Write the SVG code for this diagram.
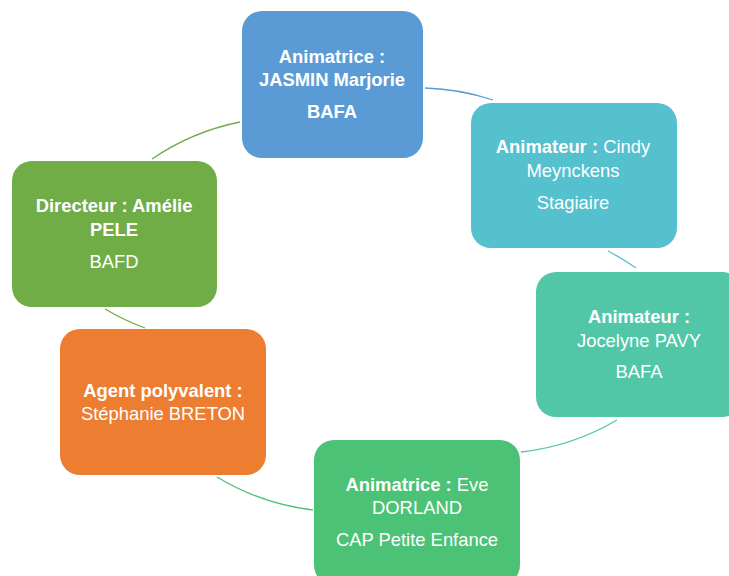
<svg xmlns="http://www.w3.org/2000/svg" width="729" height="576" viewBox="0 0 729 576">
<style>
.n{stroke:none}
.t{font-family:"Liberation Sans",Arial,sans-serif;font-size:18.4px;fill:#fff;text-anchor:middle}
.b{font-weight:bold}
.c{fill:none;stroke-width:1.3}
</style>
<rect width="729" height="576" fill="#fff"/>
<g id="connectors">
<path class="c" stroke="#5B9BD5" d="M425,88 A240,240 0 0 1 493,100"/>
<path class="c" stroke="#55C0CE" d="M608,251 A240,240 0 0 1 636,268"/>
<path class="c" stroke="#52C7A8" d="M617,420 A240,240 0 0 1 521,452"/>
<path class="c" stroke="#4CC276" d="M313,510 A240,240 0 0 1 217,477"/>
<path class="c" stroke="#70AD47" d="M145,328 A240,240 0 0 1 105,309"/>
<path class="c" stroke="#70AD47" d="M152,159 A240,240 0 0 1 240,122"/>
</g>
<g id="node1">
<rect class="n" x="242" y="11" width="181" height="147" rx="20" fill="#5B9BD5"/>
<text class="t b" x="332" y="63">Animatrice :</text>
<text class="t b" x="332" y="86">JASMIN Marjorie</text>
<text class="t b" x="332" y="118">BAFA</text>
</g>
<g id="node2">
<rect class="n" x="471" y="103" width="206" height="145" rx="20" fill="#55C0CE"/>
<text class="t" x="573" y="153"><tspan class="b">Animateur :</tspan> Cindy</text>
<text class="t" x="573" y="177">Meynckens</text>
<text class="t" x="573" y="209">Stagiaire</text>
</g>
<g id="node3">
<rect class="n" x="536" y="272" width="206" height="145" rx="20" fill="#52C7A8"/>
<text class="t b" x="639" y="323">Animateur :</text>
<text class="t" x="639" y="347">Jocelyne PAVY</text>
<text class="t" x="639" y="378">BAFA</text>
</g>
<g id="node4">
<rect class="n" x="314" y="440" width="206" height="145" rx="20" fill="#4CC276"/>
<text class="t" x="417" y="491"><tspan class="b">Animatrice :</tspan> Eve</text>
<text class="t" x="417" y="514">DORLAND</text>
<text class="t" x="417" y="546">CAP Petite Enfance</text>
</g>
<g id="node5">
<rect class="n" x="60" y="329" width="206" height="146" rx="20" fill="#ED7D31"/>
<text class="t b" x="163" y="397">Agent polyvalent :</text>
<text class="t" x="163" y="420">Stéphanie BRETON</text>
</g>
<g id="node6">
<rect class="n" x="12" y="161" width="205" height="146" rx="20" fill="#70AD47"/>
<text class="t b" x="114" y="212">Directeur : Amélie</text>
<text class="t b" x="114" y="236">PELE</text>
<text class="t" x="114" y="268">BAFD</text>
</g>
</svg>
